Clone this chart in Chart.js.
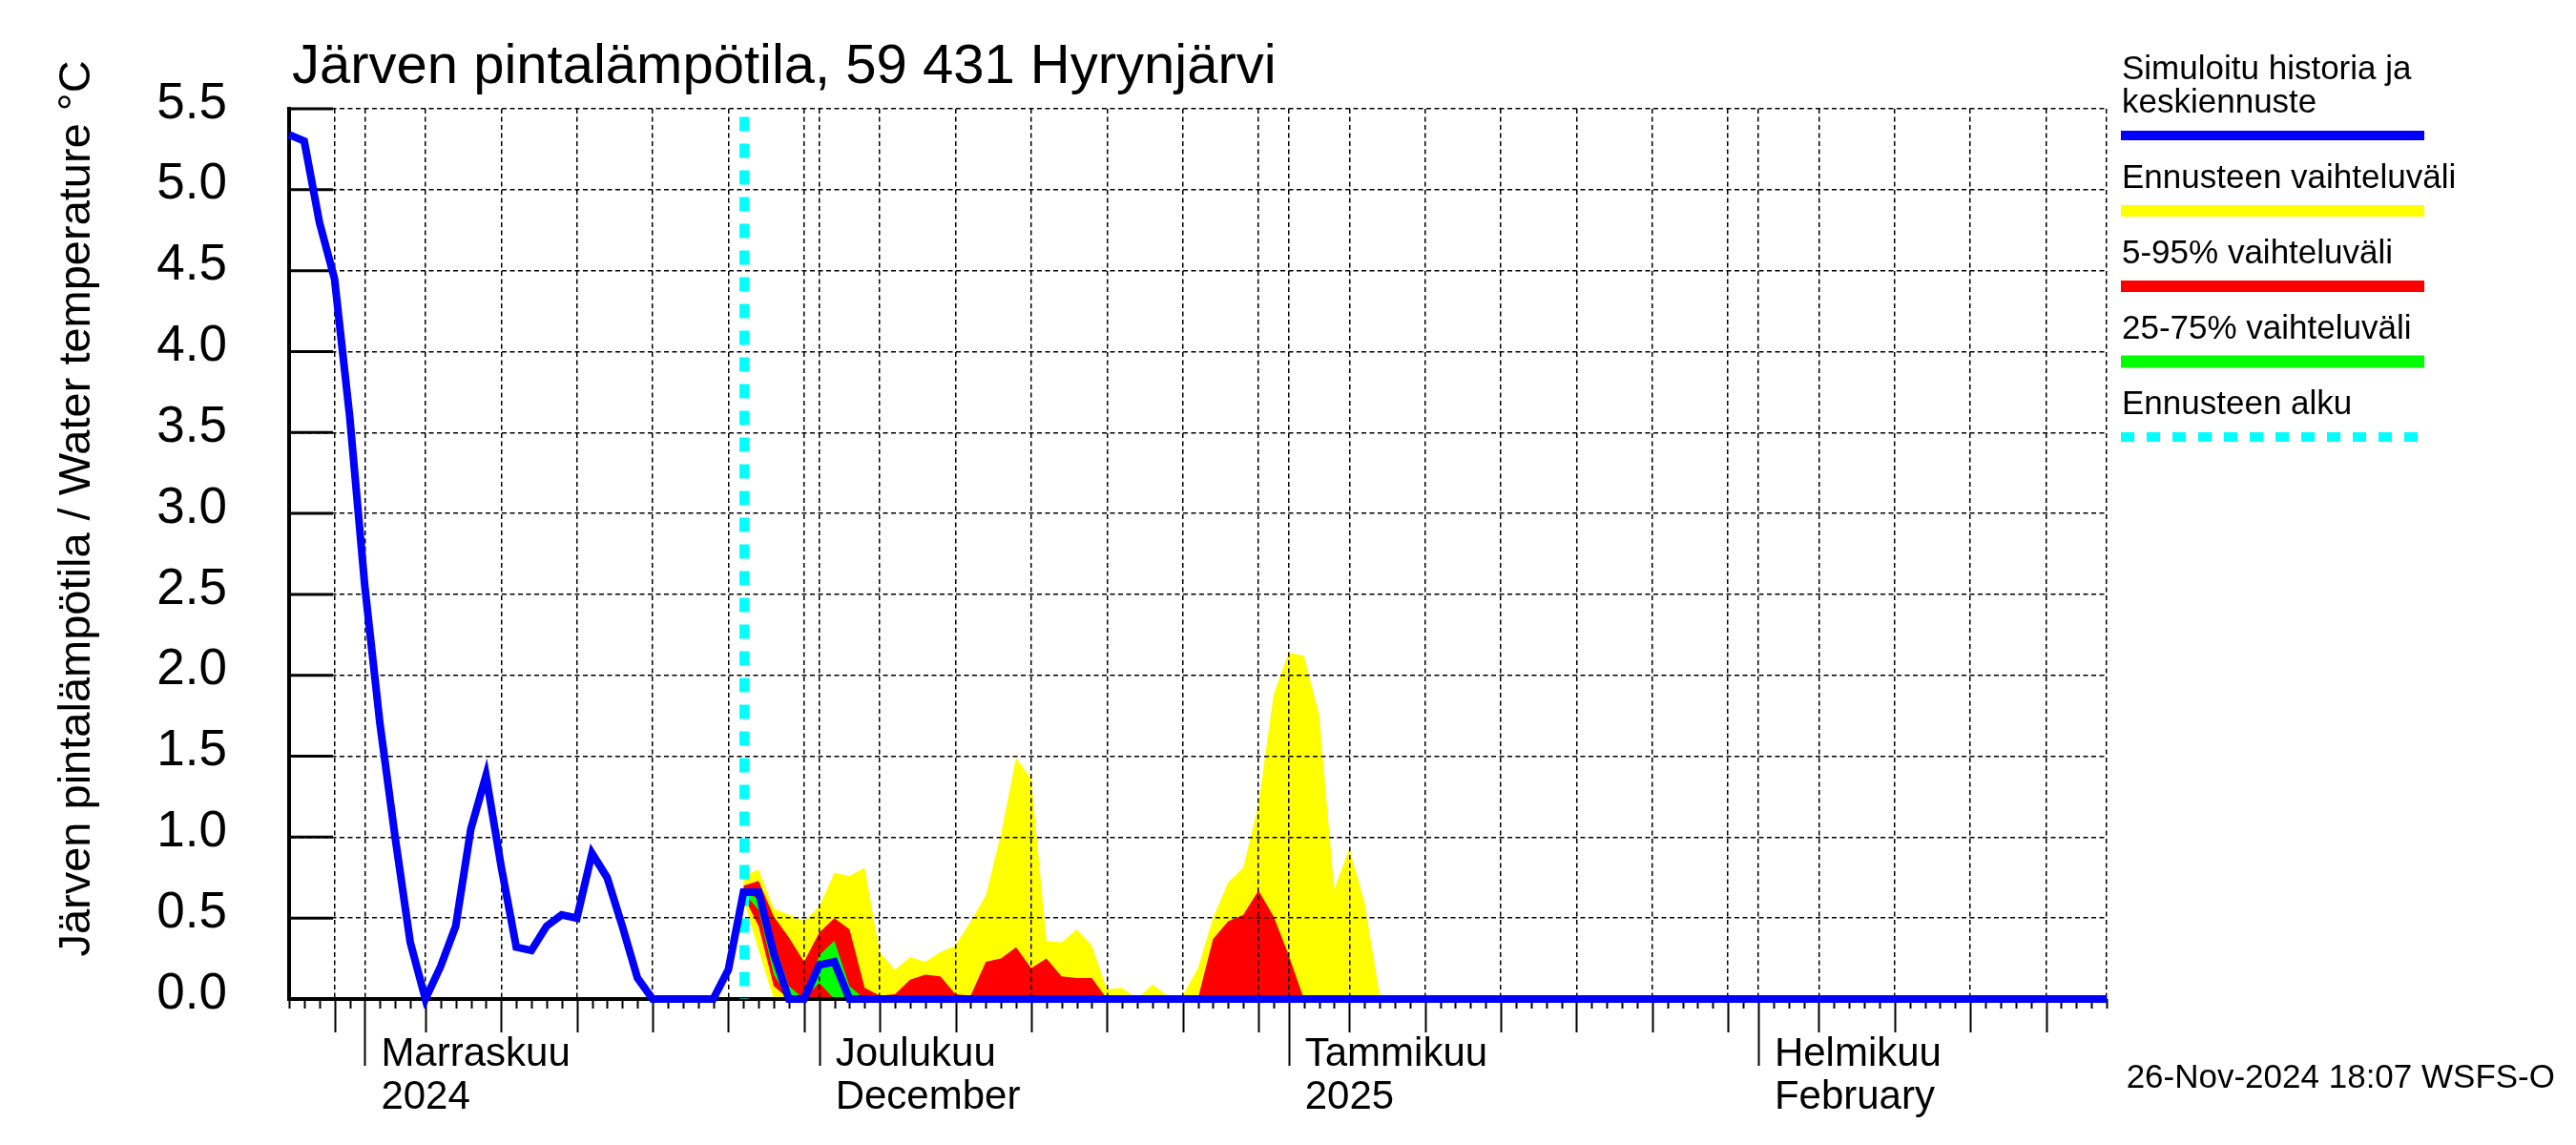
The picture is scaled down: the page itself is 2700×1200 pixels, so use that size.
<!DOCTYPE html>
<html>
<head>
<meta charset="utf-8">
<script src="https://cdn.jsdelivr.net/npm/chart.js@4.4.1/dist/chart.umd.min.js"></script>
<style>
  html, body { margin: 0; padding: 0; background: #fff; }
  canvas { display: block; }
</style>
</head>
<body>
<canvas id="chart" width="2700" height="1200"></canvas>
<script>
// x values are days counted from 27 Oct 2024
const dayStart = 0;
const dayEnd = 120;

// simulated history + median forecast, one value per day (day 0..120)
const medianTemp = [
  5.34, 5.30, 4.80, 4.45, 3.60, 2.55, 1.70, 1.00, 0.35, 0.00,
  0.20, 0.45, 1.05, 1.38, 0.82, 0.32, 0.30, 0.45, 0.52, 0.50,
  0.90, 0.75, 0.45, 0.13, 0.00, 0.00, 0.00, 0.00, 0.00, 0.18,
  0.66, 0.66, 0.28, 0.00, 0.00, 0.21, 0.23, 0.00, 0.00, 0.00,
  0, 0, 0, 0, 0, 0, 0, 0, 0, 0,
  0, 0, 0, 0, 0, 0, 0, 0, 0, 0,
  0, 0, 0, 0, 0, 0, 0, 0, 0, 0,
  0, 0, 0, 0, 0, 0, 0, 0, 0, 0,
  0, 0, 0, 0, 0, 0, 0, 0, 0, 0,
  0, 0, 0, 0, 0, 0, 0, 0, 0, 0,
  0, 0, 0, 0, 0, 0, 0, 0, 0, 0,
  0, 0, 0, 0, 0, 0, 0, 0, 0, 0,
  0
];

// forecast bands, first value is day 30 (26 Nov)
const bandStart = 30;
const fullHigh = [
  0.76, 0.80, 0.56, 0.52, 0.48, 0.57, 0.78, 0.76, 0.81, 0.29,
  0.18, 0.26, 0.23, 0.29, 0.33, 0.48, 0.64, 1.02, 1.49, 1.36,
  0.36, 0.35, 0.43, 0.33, 0.06, 0.07, 0.00, 0.09, 0.02, 0.02,
  0.19, 0.50, 0.72, 0.81, 1.20, 1.88, 2.14, 2.12, 1.76, 0.68,
  0.93, 0.60, 0.03, 0.00
];
const fullLow = [
  0.62, 0.30, 0, 0, 0, 0, 0, 0, 0, 0,
  0, 0, 0, 0, 0, 0, 0, 0, 0, 0,
  0, 0, 0, 0, 0, 0, 0, 0, 0, 0,
  0, 0, 0, 0, 0, 0, 0, 0, 0, 0,
  0, 0, 0, 0
];
const p95 = [
  0.70, 0.73, 0.51, 0.38, 0.23, 0.41, 0.50, 0.43, 0.07, 0.02,
  0.03, 0.12, 0.15, 0.14, 0.03, 0.02, 0.23, 0.25, 0.32, 0.19,
  0.25, 0.14, 0.13, 0.13, 0.00, 0.00, 0.00, 0.00, 0.00, 0.00,
  0.00, 0.37, 0.48, 0.52, 0.67, 0.51, 0.27, 0.00, 0.00, 0.00,
  0, 0, 0, 0
];
const p5 = [
  0.64, 0.45, 0.08, 0, 0, 0, 0, 0, 0, 0,
  0, 0, 0, 0, 0, 0, 0, 0, 0, 0,
  0, 0, 0, 0, 0, 0, 0, 0, 0, 0,
  0, 0, 0, 0, 0, 0, 0, 0, 0, 0,
  0, 0, 0, 0
];
const p75 = [
  0.66, 0.62, 0.35, 0.08, 0.00, 0.27, 0.36, 0.08, 0, 0,
  0, 0, 0, 0, 0, 0, 0, 0, 0, 0,
  0, 0, 0, 0, 0, 0, 0, 0, 0, 0,
  0, 0, 0, 0, 0, 0, 0, 0, 0, 0,
  0, 0, 0, 0
];
const p25 = [
  0.66, 0.55, 0.15, 0.00, 0.00, 0.10, 0, 0, 0, 0,
  0, 0, 0, 0, 0, 0, 0, 0, 0, 0,
  0, 0, 0, 0, 0, 0, 0, 0, 0, 0,
  0, 0, 0, 0, 0, 0, 0, 0, 0, 0,
  0, 0, 0, 0
];

const forecastStartDay = 30.05;
const forecastLineTop = 5.45;

const monthStartDays = [5, 35, 66, 97];
const monthLabels = [['Marraskuu', '2024'], ['Joulukuu', 'December'], ['Tammikuu', '2025'], ['Helmikuu', 'February']];
// dashed grid: 5th, 10th ... of each month plus month starts
const gridDays = [3, 5, 9, 14, 19, 24, 29, 34, 35, 39, 44, 49, 54, 59, 64, 66, 70, 75, 80, 85, 90, 95, 97, 101, 106, 111, 116];

const yMin = 0, yMax = 5.5, yStep = 0.5;

const titleText = 'Järven pintalämpötila, 59 431 Hyrynjärvi';
const yTitleText = 'Järven pintalämpötila / Water temperature °C';
const stampText = '26-Nov-2024 18:07 WSFS-O';
const legendLabels = [
  ['Simuloitu historia ja', 'keskiennuste'],
  ['Ennusteen vaihteluväli'],
  ['5-95% vaihteluväli'],
  ['25-75% vaihteluväli'],
  ['Ennusteen alku']
];

const FONT = "'Liberation Sans', Arial, Helvetica, sans-serif";
Chart.defaults.font.family = FONT;
Chart.defaults.color = '#000';

const BLUE = '#0000ff', CYAN = '#00ffff', GREEN = '#00ff00', RED = '#ff0000', YELLOW = '#ffff00';

const toPoints = (arr, start) => arr.map((v, i) => ({ x: start + i, y: v }));

function band(data, color, fill) {
  return {
    data: toPoints(data, bandStart),
    borderColor: 'rgba(0,0,0,0)',
    borderWidth: 0,
    backgroundColor: color,
    pointRadius: 0,
    fill: fill
  };
}

// extra axis decorations, title, legend and stamp
const decor = {
  id: 'decor',
  beforeDatasetsDraw(chart) {
    const { ctx, chartArea, scales: { x, y } } = chart;
    ctx.save();
    ctx.strokeStyle = '#000';
    // inward y ticks
    ctx.lineWidth = 3;
    y.ticks.forEach(t => {
      const py = y.getPixelForValue(t.value);
      ctx.beginPath();
      ctx.moveTo(chartArea.left, py);
      ctx.lineTo(chartArea.left + 46, py);
      ctx.stroke();
    });
    // downward x ticks: days, 5-day marks, month starts
    ctx.lineWidth = 2;
    x.ticks.forEach(t => {
      const d = t.value;
      let len = 10;
      if (gridDays.includes(d)) len = 35;
      if (monthStartDays.includes(d)) len = 70;
      const px = Math.round(x.getPixelForValue(d)) + 0.5;
      ctx.beginPath();
      ctx.moveTo(px, chartArea.bottom);
      ctx.lineTo(px, chartArea.bottom + len);
      ctx.stroke();
    });
    ctx.restore();
  },
  afterDraw(chart) {
    const ctx = chart.ctx;
    const ds = chart.data.datasets;
    ctx.save();
    ctx.fillStyle = '#000';
    ctx.textBaseline = 'alphabetic';
    ctx.textAlign = 'left';
    ctx.font = '58px ' + FONT;
    ctx.fillText(titleText, 306, 87);

    ctx.save();
    ctx.translate(81, 533);
    ctx.rotate(-Math.PI / 2);
    ctx.textAlign = 'center';
    ctx.textBaseline = 'middle';
    ctx.font = '47px ' + FONT;
    ctx.fillText(yTitleText, 0, 0);
    ctx.restore();

    // legend
    const bars = [
      { color: ds[0].borderColor, width: 10, dash: [] },
      { color: ds[6].backgroundColor, width: 12, dash: [] },
      { color: ds[4].backgroundColor, width: 12, dash: [] },
      { color: ds[2].backgroundColor, width: 13, dash: [] },
      { color: ds[1].borderColor, width: 10, dash: [14, 13] }
    ];
    ctx.font = '35px ' + FONT;
    let yb = 83;
    legendLabels.forEach((lines, i) => {
      lines.forEach((txt, j) => {
        if (j > 0) yb += 35;
        ctx.fillText(txt, 2224, yb);
      });
      const barY = yb + 24;
      ctx.save();
      ctx.strokeStyle = bars[i].color;
      ctx.lineWidth = bars[i].width;
      ctx.setLineDash(bars[i].dash);
      ctx.beginPath();
      ctx.moveTo(2223, barY);
      ctx.lineTo(2541, barY);
      ctx.stroke();
      ctx.restore();
      yb = barY + 55;
    });

    ctx.textAlign = 'right';
    ctx.font = '35px ' + FONT;
    ctx.fillText(stampText, 2678, 1140);
    ctx.restore();
  }
};

new Chart(document.getElementById('chart'), {
  type: 'line',
  data: {
    datasets: [
      {
        data: toPoints(medianTemp, dayStart),
        borderColor: BLUE,
        borderWidth: 8,
        pointRadius: 0,
        fill: false,
        clip: 10
      },
      {
        data: [{ x: forecastStartDay, y: forecastLineTop }, { x: forecastStartDay, y: 0 }],
        borderColor: CYAN,
        borderWidth: 10,
        borderDash: [15, 13],
        pointRadius: 0,
        fill: false
      },
      band(p75, GREEN, '+1'),
      band(p25, 'rgba(0,0,0,0)', false),
      band(p95, RED, '+1'),
      band(p5, 'rgba(0,0,0,0)', false),
      band(fullHigh, YELLOW, '+1'),
      band(fullLow, 'rgba(0,0,0,0)', false)
    ]
  },
  options: {
    responsive: false,
    devicePixelRatio: 1,
    animation: false,
    events: [],
    layout: { padding: { left: 0, top: 114, right: 492, bottom: 0 } },
    elements: { line: { tension: 0 }, point: { radius: 0 } },
    plugins: {
      legend: { display: false },
      title: { display: false },
      tooltip: { enabled: false },
      filler: { drawTime: 'beforeDraw' }
    },
    scales: {
      x: {
        type: 'linear',
        min: dayStart,
        max: dayEnd,
        afterBuildTicks: s => {
          s.ticks = [];
          for (let d = dayStart; d <= dayEnd; d++) s.ticks.push({ value: d });
        },
        afterFit: s => { s.height = 153; },
        grid: {
          drawTicks: false,
          lineWidth: 1.5,
          color: c => (c.tick && (gridDays.includes(c.tick.value) || c.tick.value === dayEnd)) ? '#000' : 'rgba(0,0,0,0)'
        },
        border: { display: true, color: '#000', width: 4, dash: [5, 3.5] },
        ticks: {
          autoSkip: false,
          maxRotation: 0,
          minRotation: 0,
          align: 'start',
          labelOffset: 17,
          padding: 36,
          font: { size: 42, lineHeight: 1.07 },
          callback: v => {
            const i = monthStartDays.indexOf(v);
            return i >= 0 ? monthLabels[i] : '';
          }
        }
      },
      y: {
        min: yMin,
        max: yMax,
        afterFit: s => { s.width = 303; },
        grid: { drawTicks: false, lineWidth: 1.5, color: '#000' },
        border: { display: true, color: '#000', width: 4, dash: [5, 3.5] },
        ticks: {
          stepSize: yStep,
          padding: 65,
          labelOffset: -5,
          font: { size: 53 },
          callback: v => v.toFixed(1)
        }
      }
    }
  },
  plugins: [decor]
});
</script>
</body>
</html>
